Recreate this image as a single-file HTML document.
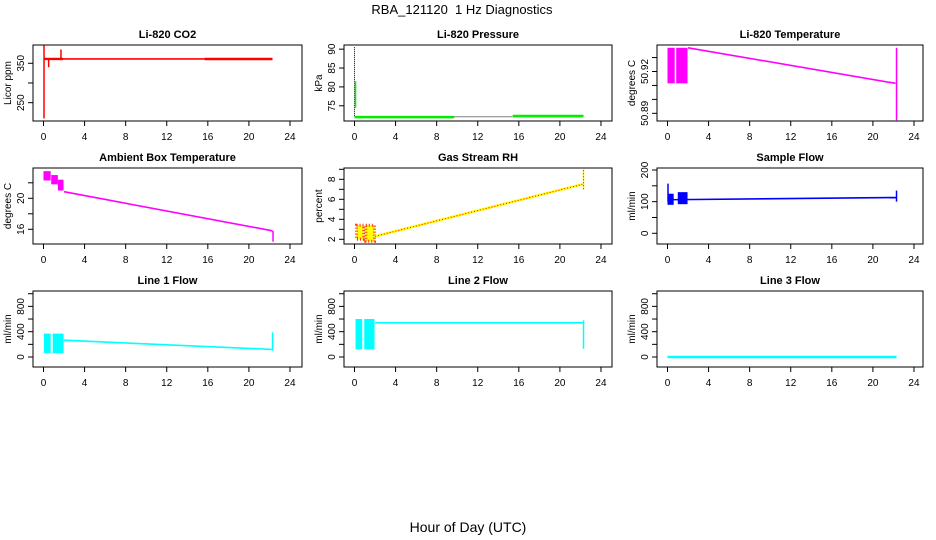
<!DOCTYPE html>
<html><head><meta charset="utf-8"><style>
html,body{margin:0;padding:0;background:#fff}
svg{display:block}
text{font-family:"Liberation Sans",sans-serif;fill:#000}
</style></head><body>
<svg id="chart" width="936" height="540" viewBox="0 0 936 540">
<text x="462" y="14" font-size="13" text-anchor="middle" xml:space="preserve" style="white-space:pre">RBA_121120  1 Hz Diagnostics</text>
<text x="468" y="532" font-size="14" text-anchor="middle">Hour of Day (UTC)</text>
</svg>
<script>
// ---- data arrays ----
const panelTitles = ["Li-820 CO2","Li-820 Pressure","Li-820 Temperature","Ambient Box Temperature","Gas Stream RH","Sample Flow","Line 1 Flow","Line 2 Flow","Line 3 Flow"];
const panelYLabels = ["Licor ppm","kPa","degrees C","degrees C","percent","ml/min","ml/min","ml/min","ml/min"];
const panelColors = ["#ff0000","#00ee00","#ff00ff","#ff00ff","#ffff00","#0000ff","#00ffff","#00ffff","#00ffff"];
const xTicks = [0,4,8,12,16,20,24];
const yRanges = [[203.5,396.4],[70.97,91.1],[50.8845,50.939],[14.1,23.91],[1.53,9.13],[-33.8,206.3],[-158,1043],[-158,1043],[-158,1043]];
const yTicks = [[250,300,350],[75,80,85,90],[50.89,50.90,50.91,50.92,50.93],[16,18,20,22],[2,3,4,5,6,7,8,9],[0,50,100,150,200],[0,200,400,600,800,1000],[0,200,400,600,800,1000],[0,200,400,600,800,1000]];
const yTickLabels = [["250","","350"],["75","80","85","90"],["50.89","","","50.92",""],["16","","20",""],["2","","4","","6","","8",""],["0","","100","","200"],["0","","400","","800",""],["0","","400","","800",""],["0","","400","","800",""]];
// lines: [hour0, value0, hour1, value1]
const trendLines = [
 [[0,361,22.3,361],[15.7,361,22.3,361]],
 [[0,72.0,9.7,72.0],[15.4,72.3,22.3,72.3]],
 [[2,50.937,22.2,50.9115]],
 [[2,20.85,22.3,15.8]],
 [[2,2.3,22.2,7.5]],
 [[0,106,22.3,113]],
 [[2,265,22.2,120]],
 [[2,540,22.3,540]],
 [[0,0,22.3,0]]
];
// dense blocks: [hourStart, hourEnd, valueMin, valueMax]
const denseBlocks = [
 [[0.1,1.9,358,364]],
 [],
 [[0,0.7,50.9115,50.937],[0.85,1.95,50.9115,50.937]],
 [[0,0.7,22.3,23.5],[0.75,1.4,21.8,23.0],[1.4,1.95,21.0,22.4]],
 [[0.2,0.9,2.0,3.4],[1.1,1.95,1.8,3.4]],
 [[0,0.6,90,125],[1.0,1.95,92,130]],
 [[0.05,0.7,60,370],[0.9,1.95,60,370]],
 [[0.1,0.75,120,600],[0.95,1.95,120,600]],
 []
];
// spikes: [hour, valueMin, valueMax]
const spikes = [
 [[0.05,210,395],[0.5,340,362],[1.7,358,385]],
 [[0.1,74.5,81.5]],
 [[22.3,50.885,50.937]],
 [[22.35,14.4,15.8]],
 [[22.3,7.0,9.0]],
 [[0.05,100,157],[22.3,100,135]],
 [[22.3,100,390]],
 [[22.3,130,580]],
 []
];
// ---- layout ----
const colX = [[33,302],[344,612],[657,923]];
const rowY = [[45,121],[168,244],[291,367]];
const svg = document.getElementById('chart');
const NS = 'http://www.w3.org/2000/svg';
function mk(tag, attrs, parent){const e=document.createElementNS(NS,tag);for(const k in attrs)e.setAttribute(k,attrs[k]);(parent||svg).appendChild(e);return e;}
function slug(s){return s.toLowerCase().replace(/[^a-z0-9]+/g,'-').replace(/^-|-$/g,'');}

for(let p=0;p<9;p++){
  const [L,R]=colX[p%3], [T,B]=rowY[Math.floor(p/3)];
  const g=mk('g',{});
  
  
  const xs=h=>L+10.5+h*10.27;
  const [y0,y1]=yRanges[p];
  const ys=v=>B-(v-y0)/(y1-y0)*(B-T);
  const col=panelColors[p];
  const fr=mk('rect',{x:L,y:T,width:R-L,height:B-T,fill:'none',stroke:'#000','stroke-width':1},g);
  
  
  const tt=mk('text',{x:(L+R)/2,y:T-7,'font-size':11,'font-weight':'bold','text-anchor':'middle'},g);
  tt.textContent=panelTitles[p];
  
  
  xTicks.forEach(t=>{
    const x=xs(t);
    mk('line',{x1:x,y1:B,x2:x,y2:B+5,stroke:'#000'},g);
    const tx=mk('text',{x:x,y:B+19,'font-size':10,'text-anchor':'middle'},g);
    tx.textContent=t;
    
    
  });
  yTicks[p].forEach((t,i)=>{
    const y=ys(t);
    mk('line',{x1:L,y1:y,x2:L-5,y2:y,stroke:'#000'},g);
    const lab=yTickLabels[p][i];
    if(lab){
      const tx=mk('text',{x:L-9,y:y,'font-size':10,'text-anchor':'middle',transform:`rotate(-90 ${L-9} ${y})`},g);
      tx.textContent=lab;
      
      
    }
  });
  const yl=mk('text',{x:L-22,y:(T+B)/2,'font-size':10,'text-anchor':'middle',transform:`rotate(-90 ${L-22} ${(T+B)/2})`},g);
  yl.textContent=panelYLabels[p];
  
  
  if(p===1){
    mk('line',{x1:xs(0),y1:ys(90.5),x2:xs(0),y2:ys(72.1),stroke:'#000','stroke-dasharray':'1 1'},g);
    mk('line',{x1:xs(0),y1:ys(72.1),x2:xs(22.3),y2:ys(72.1),stroke:'#000','stroke-dasharray':'1 1'},g);
  }
  denseBlocks[p].forEach(b=>{
    const r=mk('rect',{x:xs(b[0]),y:ys(b[3]),width:xs(b[1])-xs(b[0]),height:ys(b[2])-ys(b[3]),fill:col},g);
    
    
    if(p===4) mk('rect',{x:xs(b[0]),y:ys(b[3]),width:xs(b[1])-xs(b[0]),height:ys(b[2])-ys(b[3]),fill:'none',stroke:'#ff3300','stroke-width':3,'stroke-dasharray':'1 2'},g);
  });
  trendLines[p].forEach((l,i)=>{
    const w=(p===8)?2.5:(i>0||p===1||p===4)?2.5:1.6;
    const ln=mk('line',{x1:xs(l[0]),y1:ys(l[1]),x2:xs(l[2]),y2:ys(l[3]),stroke:col,'stroke-width':w},g);
    
    
    if(p===4) mk('line',{x1:xs(l[0]),y1:ys(l[1]),x2:xs(l[2]),y2:ys(l[3]),stroke:'#ff0000','stroke-width':1,'stroke-dasharray':'1 2'},g);
  });
  spikes[p].forEach(s=>{
    const sp=mk('line',{x1:xs(s[0]),y1:ys(s[1]),x2:xs(s[0]),y2:ys(s[2]),stroke:col,'stroke-width':1.5},g);
    
    
    if(p===4) mk('line',{x1:xs(s[0]),y1:ys(s[1]),x2:xs(s[0]),y2:ys(s[2]),stroke:'#ff0000','stroke-width':1,'stroke-dasharray':'1 2'},g);
  });
}
</script>
</body></html>
